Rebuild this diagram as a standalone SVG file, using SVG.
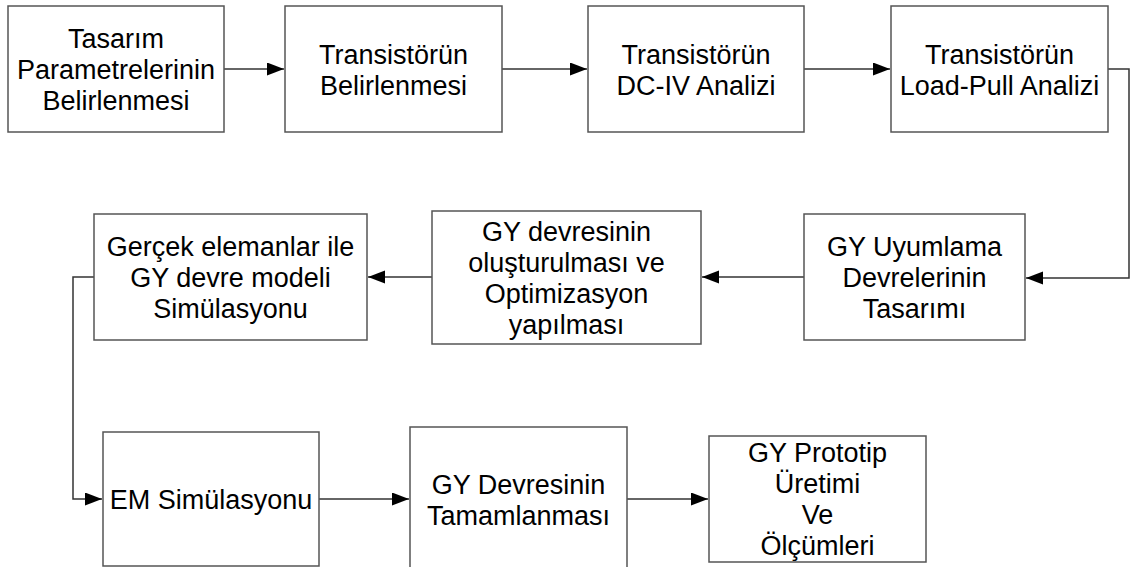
<svg xmlns="http://www.w3.org/2000/svg" width="1131" height="567" viewBox="0 0 1131 567">
<style>
.box{fill:#fff;stroke:#555;stroke-width:1.5}
.t{font-family:"Liberation Sans",Arial,sans-serif;font-size:27px;fill:#000;text-anchor:middle}
.c{fill:none;stroke:#333;stroke-width:1.5}
</style>
<defs>
<marker id="ah" markerUnits="userSpaceOnUse" markerWidth="18" markerHeight="14" refX="17" refY="6.5" orient="auto">
<path d="M0,0 L17,6.5 L0,13 z" fill="#000"/>
</marker>
</defs>
<rect width="1131" height="567" fill="#fff"/>
<g id="connectors">
<path class="c" d="M224,69 H284" marker-end="url(#ah)"/>
<path class="c" d="M502,69 H587" marker-end="url(#ah)"/>
<path class="c" d="M804,69 H890" marker-end="url(#ah)"/>
<path class="c" d="M1108,69 H1129 V278 H1026" marker-end="url(#ah)"/>
<path class="c" d="M804,277 H702" marker-end="url(#ah)"/>
<path class="c" d="M432,277 H368" marker-end="url(#ah)"/>
<path class="c" d="M94,277 H73 V499 H102" marker-end="url(#ah)"/>
<path class="c" d="M319,499 H409" marker-end="url(#ah)"/>
<path class="c" d="M627,499 H708" marker-end="url(#ah)"/>
</g>
<g id="n1"><rect class="box" x="8" y="6" width="216" height="126"/>
<text class="t" x="116"><tspan x="116" y="48">Tasarım</tspan><tspan x="116" y="79">Parametrelerinin</tspan><tspan x="116" y="110">Belirlenmesi</tspan></text></g>
<g id="n2"><rect class="box" x="285" y="6" width="217" height="126"/>
<text class="t"><tspan x="393.5" y="64">Transistörün</tspan><tspan x="393.5" y="95">Belirlenmesi</tspan></text></g>
<g id="n3"><rect class="box" x="588" y="6" width="216" height="126"/>
<text class="t"><tspan x="696" y="64">Transistörün</tspan><tspan x="696" y="95">DC-IV Analizi</tspan></text></g>
<g id="n4"><rect class="box" x="891" y="6" width="217" height="126"/>
<text class="t"><tspan x="999.5" y="64">Transistörün</tspan><tspan x="999.5" y="95">Load-Pull Analizi</tspan></text></g>
<g id="n5"><rect class="box" x="804" y="214" width="221" height="126"/>
<text class="t"><tspan x="914.5" y="256">GY Uyumlama</tspan><tspan x="914.5" y="287">Devrelerinin</tspan><tspan x="914.5" y="318">Tasarımı</tspan></text></g>
<g id="n6"><rect class="box" x="432" y="211" width="269" height="133"/>
<text class="t"><tspan x="566.5" y="241">GY devresinin</tspan><tspan x="566.5" y="272">oluşturulması ve</tspan><tspan x="566.5" y="303">Optimizasyon</tspan><tspan x="566.5" y="334">yapılması</tspan></text></g>
<g id="n7"><rect class="box" x="94" y="214" width="273" height="126"/>
<text class="t"><tspan x="230.5" y="256">Gerçek elemanlar ile</tspan><tspan x="230.5" y="287">GY devre modeli</tspan><tspan x="230.5" y="318">Simülasyonu</tspan></text></g>
<g id="n8"><rect class="box" x="103" y="432" width="216" height="134"/>
<text class="t" x="211" y="509">EM Simülasyonu</text></g>
<g id="n9"><rect class="box" x="410" y="427" width="217" height="142"/>
<text class="t"><tspan x="518.5" y="494">GY Devresinin</tspan><tspan x="518.5" y="525">Tamamlanması</tspan></text></g>
<g id="n10"><rect class="box" x="709" y="436" width="217" height="126"/>
<text class="t"><tspan x="817.5" y="462">GY Prototip</tspan><tspan x="817.5" y="493">Üretimi</tspan><tspan x="817.5" y="524">Ve</tspan><tspan x="817.5" y="555">Ölçümleri</tspan></text></g>
</svg>
